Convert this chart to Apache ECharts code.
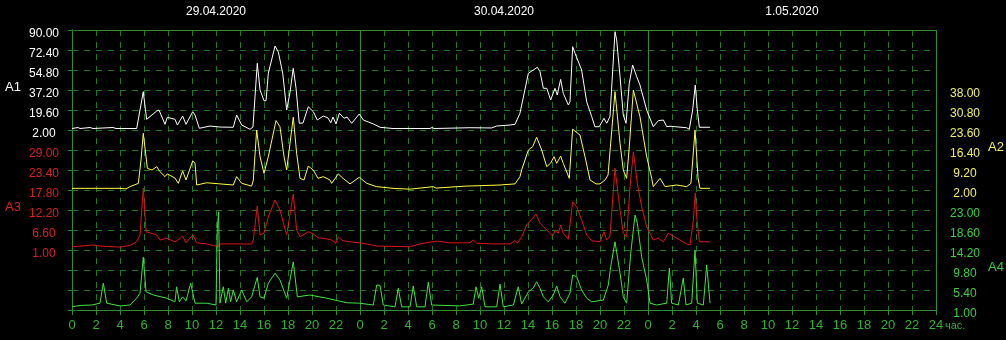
<!DOCTYPE html>
<html>
<head>
<meta charset="utf-8">
<script src="https://cdn.jsdelivr.net/npm/echarts@6/dist/echarts.min.js"></script>
<style>
html,body{margin:0;padding:0;background:#000;}
#c{width:1006px;height:340px;}
</style>
</head>
<body>
<div id="c"></div>
<script>
// ---- tick labels / categories ----
const dates = ['29.04.2020', '30.04.2020', '1.05.2020'];
const dayCenters = [12, 36, 60];
const a1Ticks = [2, 19.6, 37.2, 54.8, 72.4, 90];
const a2Ticks = [2, 9.2, 16.4, 23.6, 30.8, 38];
const a3Ticks = [1, 6.6, 12.2, 17.8, 23.4, 29];
const a4Ticks = [1, 5.4, 9.8, 14.2, 18.6, 23];

// ---- series values (time in hours from 29.04 00:00) ----
const a1Hours = [0,0.5,0.67,1.5,1.75,3.42,3.67,5.39,5.94,6.22,7.06,7.25,7.75,7.94,8.58,8.78,9.22,9.5,10.06,10.25,10.61,11.5,12.33,13.44,13.72,14.14,14.83,15.08,15.44,15.67,16.0,16.17,16.36,16.92,17.19,17.56,17.89,18.17,18.44,18.67,18.94,19.25,19.69,20.11,20.44,20.94,21.33,21.56,21.75,22.0,22.28,22.67,22.92,23.31,23.94,24.28,25.11,25.67,26.75,28.17,29.83,30.0,30.17,33.17,34.97,35.39,36.5,36.92,37.33,38.03,38.44,38.78,39.0,39.28,39.56,39.89,40.25,40.44,40.72,40.94,41.36,41.5,41.72,41.92,42.06,42.47,42.89,43.31,43.58,43.94,44.33,44.56,44.83,45.25,45.39,45.67,45.94,46.17,46.44,46.72,47.06,47.33,47.89,48.44,48.86,49.28,49.56,49.83,51.22,51.44,51.72,51.94,52.11,52.28,53.17];
const a1Values = [3.3,4.2,3.3,4.2,3.3,4.2,3.3,3.3,35.7,11.4,18.7,19.6,7.0,13.2,11.4,6.4,14.3,7.0,18.1,15.2,3.5,5.5,4.6,4.4,15.2,6.4,2.6,4.6,60.7,37.2,27.8,27.8,51.9,75.9,70.9,51.9,19.6,35.4,56.3,38.7,7.9,8.2,22.5,18.1,10.8,14.3,12.6,8.4,13.4,7.3,16.7,12.3,13.4,7.9,16.1,10.8,7.3,4.4,3.3,3.3,3.3,4.2,3.3,4.0,3.8,5.5,6.4,7.0,16.7,51.9,54.8,57.2,53.3,38.7,38.7,28.4,38.7,32.8,46.6,34.3,24.0,26.9,75.3,69.5,70.9,54.8,26.9,13.7,4.9,4.9,12.3,7.9,13.7,88.5,81.2,48.9,15.2,7.9,43.1,59.2,48.9,41.6,19.6,4.9,10.2,10.8,4.9,5.3,4.0,2.6,19.6,41.6,19.6,4.4,4.4];

const a2Hours = [0,4.0,4.5,4.83,5.53,5.75,5.94,6.28,6.67,7.06,7.33,7.75,7.94,8.58,8.86,9.22,9.5,10.06,10.25,10.39,11.22,12.33,13.44,13.72,14.14,14.97,15.11,15.39,15.67,16.0,16.36,17.0,17.33,17.67,17.89,18.44,18.72,19.0,19.33,19.69,20.11,20.5,20.94,21.5,21.64,22.19,22.58,23.17,23.94,24.56,25.39,26.75,28.17,30.11,30.33,32.83,35.67,36.92,37.33,37.47,38.03,38.39,38.72,39.14,39.56,39.89,40.17,40.39,40.72,40.94,41.44,41.72,42.33,42.75,43.17,43.67,44.0,44.42,44.67,45.25,45.67,45.94,46.22,46.42,46.78,47.33,47.89,48.31,48.44,49.0,49.42,50.39,51.22,51.58,51.92,52.17,52.33,53.17];
const a2Values = [2.6,2.6,2.4,3.2,4.4,12.8,22.4,9.8,9.2,10.4,8.6,6.8,7.8,6.3,4.4,8.9,5.6,12.5,11.7,3.8,4.6,4.2,3.8,6.8,4.4,3.4,5.6,23.6,14.0,8.0,14.0,27.0,24.8,14.0,9.2,28.2,15.2,6.2,5.6,10.6,9.2,6.2,6.8,5.6,4.4,7.8,6.2,4.2,6.6,4.4,3.2,2.6,2.3,3.2,2.7,3.4,3.8,4.2,6.8,9.2,16.4,17.6,21.0,16.4,10.4,11.7,14.0,11.6,14.2,11.6,6.2,23.9,21.8,14.0,5.6,4.2,4.2,5.6,7.4,37.4,18.8,9.2,6.2,16.4,38.0,28.4,14.0,6.2,3.2,6.2,3.2,3.8,3.2,4.4,23.6,6.3,2.6,2.6];

const a3Hours = [0,1.78,2.33,4.0,4.83,5.39,5.67,5.94,6.17,6.5,7.06,7.33,7.89,8.58,8.83,9.22,9.5,10.06,10.39,11.22,12.0,12.17,12.33,13.44,14.97,15.11,15.44,15.67,16.0,16.36,16.92,17.33,17.89,18.44,18.72,19.0,19.69,20.11,20.5,20.94,21.64,22.0,22.19,22.58,23.17,23.94,24.56,25.39,28.17,29.0,30.39,31.5,33.17,33.44,33.72,35.08,36.5,36.92,37.11,37.47,37.89,38.31,38.67,39.0,39.56,40.06,40.25,40.53,40.72,40.94,41.36,41.72,42.06,42.47,42.89,43.31,44.0,44.33,44.56,44.83,45.25,45.67,45.94,46.22,46.5,46.78,47.11,47.47,47.89,48.44,48.86,49.28,49.69,50.39,51.22,51.5,51.78,51.94,52.08,52.28,53.17];
const a3Values = [1.9,2.4,2.1,1.8,2.3,3.3,5.2,18.3,6.1,5.8,5.2,3.8,4.3,3.3,3.8,4.9,3.0,5.2,3.0,2.7,2.1,1.9,2.7,2.7,2.7,3.8,13.3,5.2,5.7,10.3,15.0,12.2,5.2,16.7,6.6,4.7,6.1,5.5,4.4,4.3,3.8,2.9,4.6,3.6,3.3,3.0,2.7,2.1,1.9,2.7,3.5,3.0,3.0,3.8,2.9,2.7,2.7,3.6,2.9,4.7,8.0,9.6,11.1,8.5,6.6,4.9,6.4,5.7,8.0,5.7,4.0,14.5,13.1,9.4,5.2,3.6,3.3,6.1,3.8,4.9,23.9,12.2,5.7,4.7,18.7,28.5,19.7,13.1,7.5,3.8,4.3,3.3,5.7,4.3,2.7,2.4,9.4,17.0,9.4,3.3,3.3];

const a4Hours = [0,0.67,1.67,2.33,2.61,2.89,4.0,4.83,5.39,5.67,5.94,6.17,6.78,7.89,8.58,8.72,8.94,9.22,9.5,9.89,10.25,11.22,12.0,12.11,12.22,12.33,12.61,12.81,13.03,13.22,13.44,13.72,14.14,14.56,14.97,15.44,15.67,16.0,16.36,16.92,17.33,17.89,18.44,18.78,19.83,21.22,22.89,23.94,25.11,25.39,25.67,25.94,26.92,27.19,27.47,28.17,28.44,28.72,29.42,29.69,29.97,32.33,33.44,33.67,33.89,34.14,34.42,35.39,35.67,35.94,36.78,37.19,37.47,38.03,38.42,38.72,39.0,39.28,39.69,40.11,40.39,40.67,41.08,41.5,41.72,42.06,42.47,42.89,43.31,44.28,44.69,44.89,45.25,45.67,45.94,46.22,46.56,46.92,47.11,47.47,47.89,48.17,48.72,49.56,49.78,49.97,50.53,50.94,51.17,51.64,51.92,52.11,52.61,52.89,53.17];
const a4Values = [1.7,2.0,2.1,2.5,6.9,2.5,1.9,2.1,3.6,4.7,12.6,5.0,4.3,3.6,2.8,6.1,2.8,3.9,3.0,6.9,2.5,2.5,2.1,19.0,22.6,2.5,6.1,2.5,5.8,2.8,5.4,2.8,5.4,2.8,3.9,8.2,3.9,3.6,6.9,9.1,7.6,3.6,11.6,3.9,4.3,3.6,2.6,2.5,2.1,6.5,6.4,2.1,1.7,5.8,1.7,1.7,6.3,1.7,1.7,7.1,2.1,1.9,2.3,6.1,3.6,6.1,1.7,1.7,6.7,1.7,2.1,6.1,2.3,5.0,5.8,7.2,5.8,3.9,2.8,4.3,6.3,3.9,2.5,4.7,8.7,8.3,5.4,3.6,2.8,3.2,6.5,10.5,16.0,9.1,3.9,2.5,13.5,21.9,20.1,12.7,7.6,2.5,2.1,2.5,10.2,2.5,2.1,8.0,2.1,2.5,14.2,2.5,2.1,10.9,2.5];

// ---- chart ----
const FONT = "'Liberation Sans', Arial, sans-serif";
const GRID_GREEN = '#1f7a1f';
const AXIS_GREEN = '#2f8f2f';
const L = 72, W = 864;

const bands = [
  {name: 'A1', hours: a1Hours, values: a1Values, ticks: a1Ticks, min: 2, max: 90, top: 30, side: 'left', line: '#ffffff', label: '#ffffff'},
  {name: 'A2', hours: a2Hours, values: a2Values, ticks: a2Ticks, min: 2, max: 38, top: 90, side: 'right', line: '#ffff3c', label: '#f2f25a'},
  {name: 'A3', hours: a3Hours, values: a3Values, ticks: a3Ticks, min: 1, max: 29, top: 150, side: 'left', line: '#e01414', label: '#d82020'},
  {name: 'A4', hours: a4Hours, values: a4Values, ticks: a4Ticks, min: 1, max: 23, top: 210, side: 'right', line: '#3ce63c', label: '#38d038'}
];

const grids = [{left: L, top: 30, width: W, height: 280}];
const xAxes = [
  {gridIndex: 0, type: 'value', position: 'bottom', min: 0, max: 72, interval: 2,
   axisLine: {show: true, onZero: false, lineStyle: {color: AXIS_GREEN, width: 1}},
   axisTick: {show: true, length: 5, lineStyle: {color: AXIS_GREEN}},
   axisLabel: {color: '#2fb52f', fontSize: 13, fontFamily: FONT, margin: 9,
     formatter: v => v === 72 ? '24' : String(v % 24)},
   splitLine: {show: true, lineStyle: {color: GRID_GREEN, type: [6, 6], width: 1}}},
  {gridIndex: 0, type: 'value', position: 'top', min: 0, max: 72,
   axisLine: {show: true, onZero: false, lineStyle: {color: AXIS_GREEN, width: 1}},
   axisTick: {show: false},
   axisLabel: {show: true, customValues: dayCenters, color: '#ffffff', fontSize: 12, fontFamily: FONT, margin: 12,
     formatter: v => dates[dayCenters.indexOf(v)]},
   splitLine: {show: false}},
  {gridIndex: 0, type: 'value', position: 'bottom', min: 0, max: 72, interval: 24,
   axisLine: {show: false}, axisTick: {show: false}, axisLabel: {show: false},
   splitLine: {show: true, lineStyle: {color: AXIS_GREEN, type: 'solid', width: 1}}}
];
const yAxes = [
  {gridIndex: 0, type: 'value', position: 'left', min: 0, max: 14, interval: 1,
   axisLine: {show: true, lineStyle: {color: AXIS_GREEN}},
   axisTick: {show: true, length: 4, lineStyle: {color: AXIS_GREEN}},
   axisLabel: {show: false},
   splitLine: {show: true, lineStyle: {color: GRID_GREEN, type: [6, 6], width: 1}}},
  {gridIndex: 0, type: 'value', position: 'right', min: 0, max: 14, interval: 1,
   axisLine: {show: true, lineStyle: {color: AXIS_GREEN}},
   axisTick: {show: true, length: 6, lineStyle: {color: GRID_GREEN}},
   axisLabel: {show: false}, splitLine: {show: false}}
];
const series = [];
const graphics = [];

bands.forEach((b, i) => {
  const gi = i + 1;
  grids.push({left: L, width: W, top: b.top, height: 100});
  xAxes.push({gridIndex: gi, type: 'value', min: 0, max: 72, show: false});
  yAxes.push({gridIndex: gi, type: 'value', position: b.side, min: b.min, max: b.max,
    axisLine: {show: false}, axisTick: {show: false}, splitLine: {show: false},
    axisLabel: {show: true, customValues: b.ticks, color: b.label, fontSize: 12, fontFamily: FONT,
      margin: b.side === 'left' ? 28 : 29, align: 'center', verticalAlign: 'top', lineHeight: 8,
      formatter: v => v.toFixed(2)}});
  series.push({type: 'line', name: b.name, xAxisIndex: gi + 2, yAxisIndex: gi + 1,
    data: b.hours.map((h, k) => [h, b.values[k]]),
    showSymbol: false, clip: false, z: 5,
    lineStyle: {color: b.line, width: 1}, itemStyle: {color: b.line}});
  const cy = b.top + 50 + 8;
  const txt = {type: 'text', top: cy - 7, style: {text: b.name, fill: b.label, font: '13px ' + FONT}};
  if (b.side === 'left') txt.left = 5; else txt.right = 2;
  graphics.push(txt);
});

graphics.push({type: 'text', left: 945, top: 320, style: {text: 'час.', fill: '#2fb52f', font: '11px ' + FONT}});

const option = {
  backgroundColor: '#000000',
  animation: false,
  textStyle: {fontFamily: FONT},
  grid: grids,
  xAxis: xAxes,
  yAxis: yAxes,
  series: series,
  graphic: graphics
};

const chart = echarts.init(document.getElementById('c'), null, {renderer: 'canvas'});
chart.setOption(option);
</script>
</body>
</html>
